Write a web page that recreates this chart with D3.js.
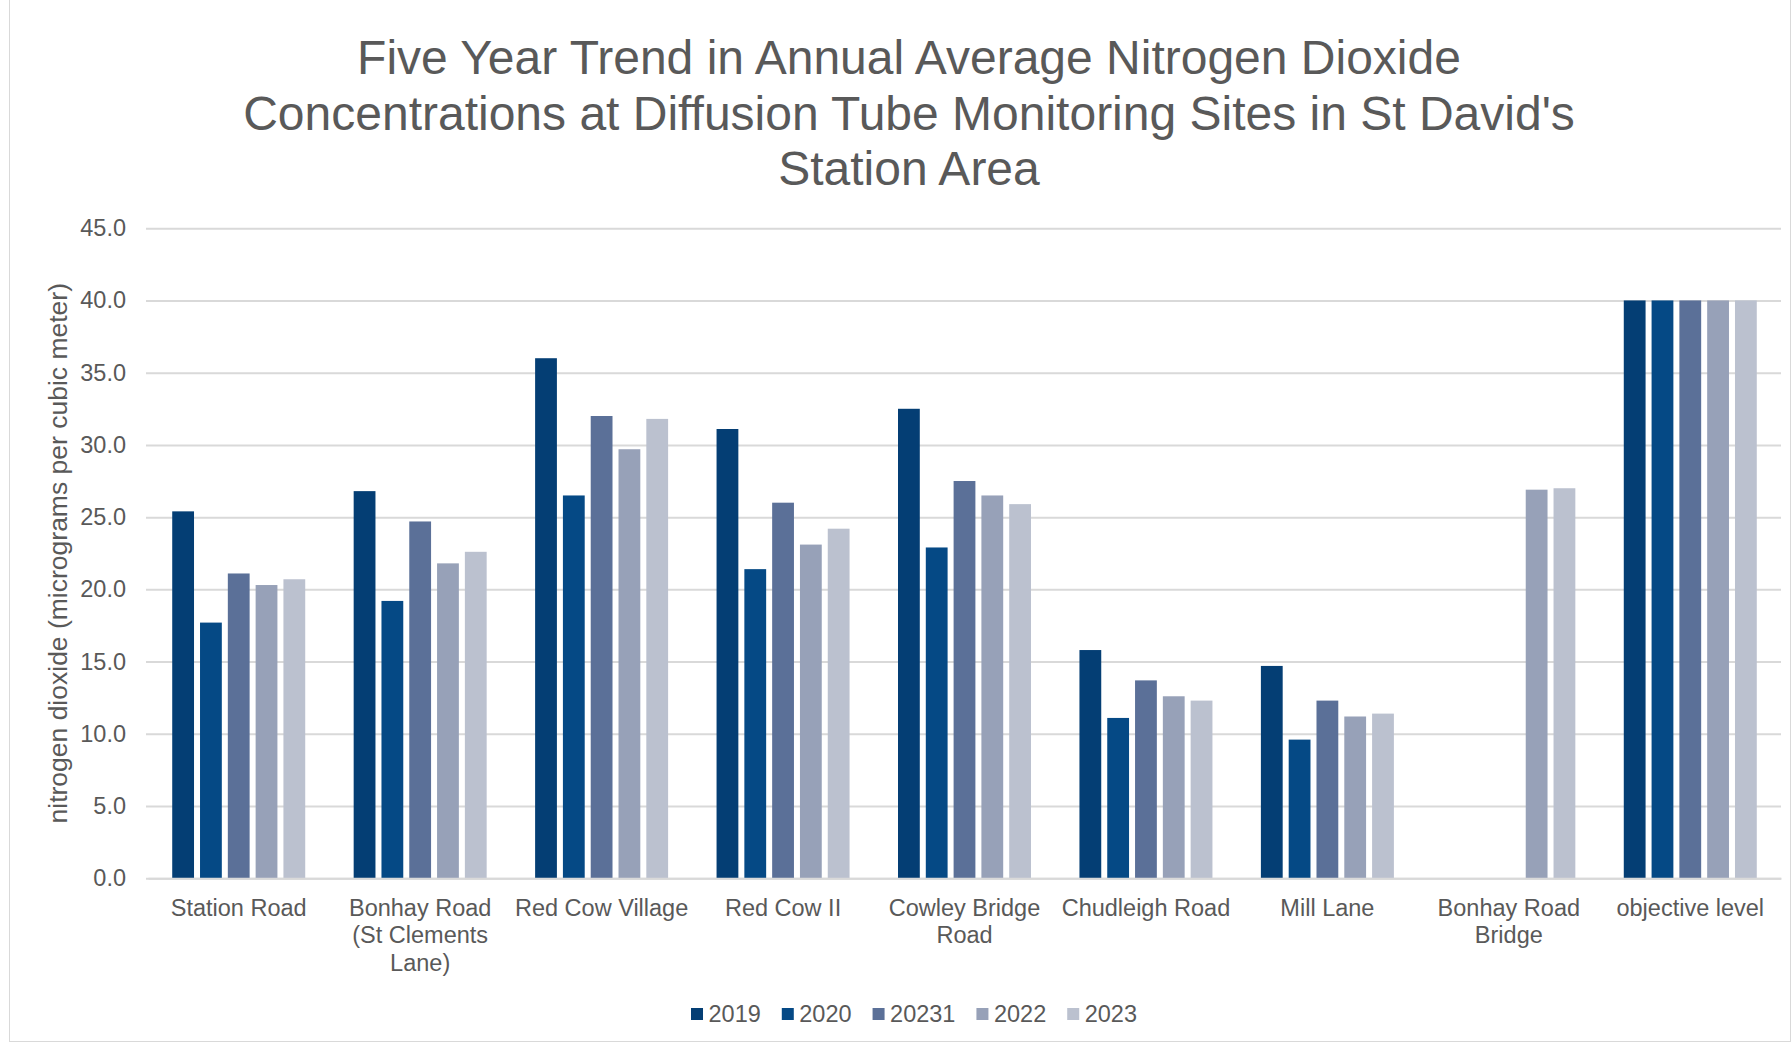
<!DOCTYPE html>
<html>
<head>
<meta charset="utf-8">
<script src="https://cdn.jsdelivr.net/npm/d3@7"></script>
<style>
  html, body { margin: 0; padding: 0; background: #ffffff; }
  svg { display: block; font-family: "Liberation Sans", Arial, sans-serif; }
</style>
</head>
<body>
<svg id="chart" width="1791" height="1045"></svg>
<script>
// Monitoring sites (x categories) and how their labels wrap under the axis
const categories = [
  "Station Road", "Bonhay Road (St Clements Lane)", "Red Cow Village", "Red Cow II",
  "Cowley Bridge Road", "Chudleigh Road", "Mill Lane", "Bonhay Road Bridge", "objective level"
];
const categoryLines = [
  ["Station Road"], ["Bonhay Road", "(St Clements", "Lane)"], ["Red Cow Village"], ["Red Cow II"],
  ["Cowley Bridge", "Road"], ["Chudleigh Road"], ["Mill Lane"], ["Bonhay Road", "Bridge"], ["objective level"]
];

// Series names as they appear in the legend
const seriesNames = ["2019", "2020", "20231", "2022", "2023"];

// Annual mean NO2 (µg/m³) per site, one array per year; null = no measurement
const values2019  = [25.4, 26.8, 36.0, 31.1, 32.5, 15.8, 14.7, null, 40.0];
const values2020  = [17.7, 19.2, 26.5, 21.4, 22.9, 11.1,  9.6, null, 40.0];
const values20231 = [21.1, 24.7, 32.0, 26.0, 27.5, 13.7, 12.3, null, 40.0];
const values2022  = [20.3, 21.8, 29.7, 23.1, 26.5, 12.6, 11.2, 26.9, 40.0];
const values2023  = [20.7, 22.6, 31.8, 24.2, 25.9, 12.3, 11.4, 27.0, 40.0];

const yTicks = [0, 5, 10, 15, 20, 25, 30, 35, 40, 45];

const titleLines = [
  "Five Year Trend in Annual Average Nitrogen Dioxide",
  "Concentrations at Diffusion Tube Monitoring Sites in St David's",
  "Station Area"
];
const yAxisTitle = "nitrogen dioxide (micrograms per cubic meter)";

const seriesColors = ["#043e74", "#054985", "#5b7098", "#97a1b8", "#bbc1cf"];

const seriesValues = [values2019, values2020, values20231, values2022, values2023];
const rows = categories.map((c, i) => ({
  category: c,
  bars: seriesNames.map((s, j) => ({ series: s, value: seriesValues[j][i] }))
}));

const svg = d3.select("#chart");
const textColor = "#595959";
const gridColor = "#d9d9d9";

// Chart-area frame
svg.append("rect")
  .attr("x", 9.5).attr("y", -0.5)
  .attr("width", 1781).attr("height", 1042)
  .attr("fill", "none").attr("stroke", gridColor).attr("stroke-width", 1);

const plot = { left: 148, right: 1781, top: 228.2, bottom: 878.3, gridLeft: 146 };

const x0 = d3.scaleBand().domain(categories).range([plot.left, plot.right]).padding(0);
const groupWidth = x0.bandwidth() * 0.733;
const x1 = d3.scaleBand().domain(seriesNames).range([0, groupWidth]).paddingInner(0.216).paddingOuter(0);
const y = d3.scaleLinear().domain([0, 45]).range([plot.bottom, plot.top]);
const color = d3.scaleOrdinal().domain(seriesNames).range(seriesColors);

// Horizontal gridlines and y tick labels
const yAxis = d3.axisLeft(y)
  .tickValues(yTicks)
  .tickFormat(d => d.toFixed(1))
  .tickSize(-(plot.right - plot.gridLeft))
  .tickPadding(20);

const yG = svg.append("g")
  .attr("transform", `translate(${plot.gridLeft},0)`)
  .call(yAxis);
yG.select(".domain").remove();
yG.selectAll(".tick line").attr("stroke", gridColor).attr("stroke-width", 2);
yG.selectAll(".tick text")
  .attr("fill", textColor)
  .attr("font-size", "23.5px")
  .attr("font-family", "'Liberation Sans', Arial, sans-serif");

// Bars
const groups = svg.append("g").selectAll("g")
  .data(rows)
  .join("g")
  .attr("transform", d => `translate(${x0(d.category) + (x0.bandwidth() - groupWidth) / 2},0)`);

groups.selectAll("rect")
  .data(d => d.bars.filter(b => b.value != null))
  .join("rect")
  .attr("x", d => x1(d.series))
  .attr("width", x1.bandwidth())
  .attr("y", d => y(d.value))
  .attr("height", d => y(0) - y(d.value))
  .attr("fill", d => color(d.series));

// Category axis line and wrapped labels
const xAxis = d3.axisBottom(x0).tickSize(0).tickFormat("");
const xG = svg.append("g")
  .attr("transform", `translate(0,${plot.bottom})`)
  .call(xAxis);
xG.select(".domain").attr("stroke", gridColor).attr("stroke-width", 2);
xG.selectAll(".tick text").remove();

const labelG = svg.append("g")
  .attr("font-size", "23.5px")
  .attr("fill", textColor)
  .attr("text-anchor", "middle");
labelG.selectAll("text")
  .data(categories)
  .join("text")
  .attr("x", d => x0(d) + x0.bandwidth() / 2)
  .attr("y", 916)
  .each(function(d, i) {
    d3.select(this).selectAll("tspan")
      .data(categoryLines[i])
      .join("tspan")
      .attr("x", x0(d) + x0.bandwidth() / 2)
      .attr("dy", (l, k) => k === 0 ? 0 : 27.4)
      .text(l => l);
  });

// Title
svg.append("text")
  .attr("text-anchor", "middle")
  .attr("font-size", "48px")
  .attr("fill", textColor)
  .selectAll("tspan")
  .data(titleLines)
  .join("tspan")
  .attr("x", 909)
  .attr("y", (d, i) => 74 + i * 55.5)
  .text(d => d);

// Y axis title
svg.append("text")
  .attr("transform", `translate(67,${(plot.top + plot.bottom) / 2}) rotate(-90)`)
  .attr("text-anchor", "middle")
  .attr("font-size", "26.5px")
  .attr("fill", textColor)
  .text(yAxisTitle);

// Legend, centred under the plot
const legend = svg.append("g").attr("font-size", "23.5px").attr("fill", textColor);
const items = legend.selectAll("g").data(seriesNames).join("g");
items.append("rect")
  .attr("width", 12).attr("height", 12)
  .attr("y", -6)
  .attr("fill", d => color(d));
items.append("text")
  .attr("x", 17.5)
  .attr("y", 0)
  .attr("dy", "0.35em")
  .text(d => d);

let offset = 0;
const positions = [];
items.each(function() {
  const w = this.querySelector("text").getComputedTextLength();
  positions.push(offset);
  offset += 17.5 + w + 21;
});
const legendWidth = offset - 21;
const legendLeft = 914 - legendWidth / 2;
items.attr("transform", (d, i) => `translate(${legendLeft + positions[i]},1014)`);
</script>
</body>
</html>
